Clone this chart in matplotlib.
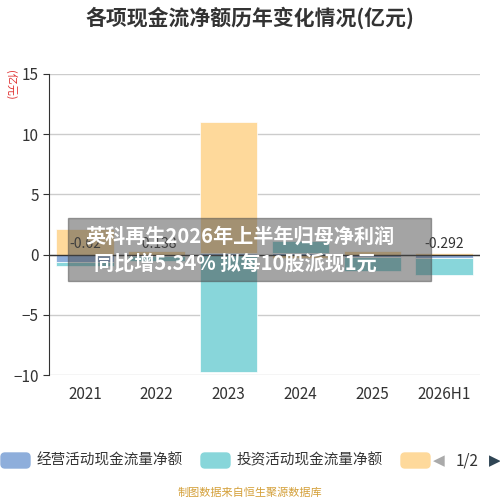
import matplotlib
matplotlib.use("Agg")
import matplotlib.pyplot as plt
import numpy as np
from matplotlib.patches import Rectangle, FancyBboxPatch

plt.rcParams['font.family'] = ['Noto Sans CJK SC', 'DejaVu Sans']

categories = ["2021", "2022", "2023", "2024", "2025", "2026H1"]
operating = [-0.62, -0.138, 0.1, 0.15, -0.2, -0.292]
investing = [-0.3, -0.4, -9.75, 1.0, -1.2, -1.4]
financing = [2.1, 0.3, 10.9, -0.3, 0.3, 0.1]
op_labels = ["-0.62", "-0.138", "", "", "", "-0.292"]
yticks = [-10, -5, 0, 5, 10, 15]

colors = ["#8eaedb", "#88d6da", "#fed99b"]
names = ["经营活动现金流量净额", "投资活动现金流量净额", "筹资活动现金流量净额"]

fig = plt.figure(figsize=(5, 5), dpi=100)
ax = fig.add_axes([0.098, 0.25, 0.862, 0.602])
x = np.arange(len(categories))
pos = np.zeros(len(x)); neg = np.zeros(len(x))
for vals, c in zip([operating, investing, financing], colors):
    v = np.array(vals)
    bottom = np.where(v >= 0, pos, neg)
    ax.bar(x, v, bottom=bottom, width=0.8, color=c, edgecolor='white', linewidth=0.5, zorder=2)
    pos = pos + np.where(v >= 0, v, 0)
    neg = neg + np.where(v < 0, v, 0)
for i, t in enumerate(op_labels):
    if t:
        ax.text(x[i], 0.3, t, ha='center', va='bottom', fontsize=10, color='#333333', zorder=3)

ax.set_xlim(-0.5, len(x) - 0.5)
ax.set_ylim(-10, 15)
ax.set_yticks(yticks)
ax.set_xticks(x)
ax.set_xticklabels(categories, fontsize=11, color='#333333')
ax.tick_params(axis='y', labelsize=11, colors='#333333', length=4)
ax.tick_params(axis='x', length=0, pad=8)
ax.grid(axis='y', color='#cccccc', linewidth=1, zorder=0)
for s in ['top', 'right', 'bottom']:
    ax.spines[s].set_visible(False)
ax.spines['left'].set_color('#333333')
ax.axhline(0, color='#333333', linewidth=1, zorder=3)

fig.text(0.5, 0.965, "各项现金流净额历年变化情况(亿元)", ha='center', va='center', fontsize=15, fontweight='bold', color='#333333')
fig.text(0.022, 0.83, "(亿元)", rotation=-90, ha='center', va='center', fontsize=8, color='#e03030')

# legend
lx = [0.0, 0.4, 0.8]
for i in range(3):
    fig.patches.append(FancyBboxPatch((lx[i] + 0.002, 0.064), 0.058, 0.03, boxstyle="round,pad=0,rounding_size=0.008",
                                      transform=fig.transFigure, color=colors[i], figure=fig))
    if i < 2:
        fig.text(lx[i] + 0.074, 0.079, names[i], ha='left', va='center', fontsize=10.5, color='#333333')
fig.text(0.878, 0.079, "◀", ha='center', va='center', fontsize=11, color='#aaaaaa', family=['DejaVu Sans'])
fig.text(0.935, 0.079, "1/2", ha='center', va='center', fontsize=11, color='#333333')
fig.text(0.99, 0.079, "▶", ha='center', va='center', fontsize=11, color='#2f4554', family=['DejaVu Sans'])

fig.text(0.5, 0.014, "制图数据来自恒生聚源数据库", ha='center', va='center', fontsize=8, color='#d4a03a')

# banner
fig.patches.append(Rectangle((0.136, 0.438), 0.726, 0.126, transform=fig.transFigure,
                             color='#4a4a4a', alpha=0.5, figure=fig, zorder=5))
fig.text(0.48, 0.527, "英科再生2026年上半年归母净利润", ha='center', va='center', fontsize=14.5, fontweight='bold', color='white', zorder=6)
fig.text(0.47, 0.474, "同比增5.34% 拟每10股派现1元", ha='center', va='center', fontsize=14.5, fontweight='bold', color='white', zorder=6)

fig.savefig("out.png", dpi=100)
